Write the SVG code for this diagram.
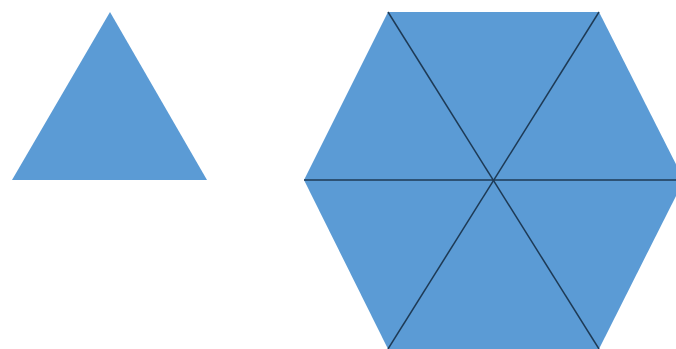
<svg xmlns="http://www.w3.org/2000/svg" width="676" height="349" viewBox="0 0 676 349">
<style>
.f{fill:#5b9bd5;stroke:none}
.l{stroke:#1e3a55;stroke-width:1.5;fill:none}
</style>
<rect width="676" height="349" fill="#ffffff"/>
<g id="triangle"><polygon class="f" points="110,12 207,180 12,180"/></g>
<g id="hexagon"><polygon class="f" points="388,12 599,12 684,180 599,349 388,349 304,180"/></g>
<g id="connectors">
<line class="l" x1="388" y1="12" x2="599" y2="349"/>
<line class="l" x1="599" y1="12" x2="388" y2="349"/>
<line class="l" x1="304" y1="180" x2="684" y2="180"/>
</g>
</svg>
